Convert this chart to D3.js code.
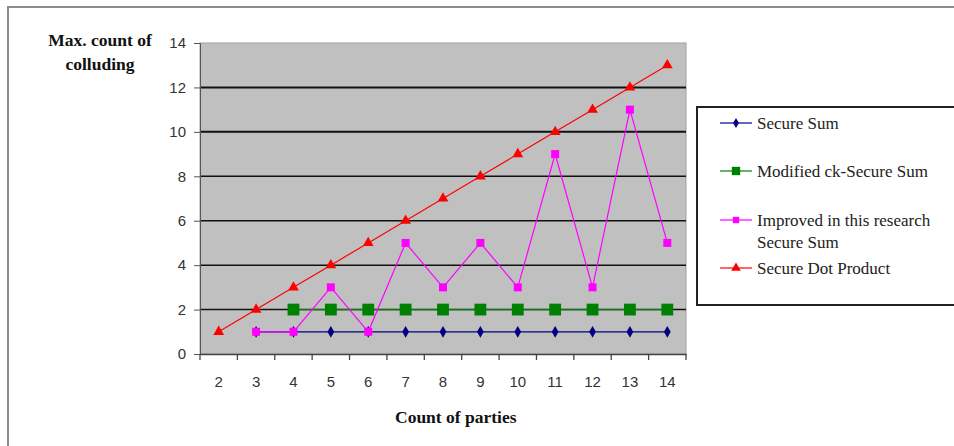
<!DOCTYPE html>
<html><head><meta charset="utf-8">
<script src="https://cdn.jsdelivr.net/npm/d3@7"></script>
<style>body{margin:0;background:#fff}svg{display:block}</style>
</head><body>
<svg id="c" width="954" height="446"></svg>
<script>
const categories = [2,3,4,5,6,7,8,9,10,11,12,13,14];
const yTicks = [0,2,4,6,8,10,12,14];
const secureSum = [null,1,1,1,1,1,1,1,1,1,1,1,1];
const modifiedCk = [null,null,2,2,2,2,2,2,2,2,2,2,2];
const improved = [null,1,1,3,1,5,3,5,3,9,3,11,5];
const dotProduct = [1,2,3,4,5,6,7,8,9,10,11,12,13];
const seriesNames = ["Secure Sum","Modified ck-Secure Sum","Improved in this research\nSecure Sum","Secure Dot Product"];

const series = [
  {name:seriesNames[0], values:secureSum, color:"#000080", marker:"diamond", size:40},
  {name:seriesNames[1], values:modifiedCk, color:"#008000", marker:"square", size:140},
  {name:seriesNames[2], values:improved, color:"#ff00ff", marker:"square", size:64},
  {name:seriesNames[3], values:dotProduct, color:"#ff0000", marker:"triangle", size:50}
];

const svg = d3.select("#c");
const L=200, R=686, T=43, B=354;
const x = d3.scaleBand().domain(categories).range([L,R]);
const y = d3.scaleLinear().domain([0,14]).range([B,T]);
const serif = "Liberation Serif, Times New Roman, serif";
const sans = "Liberation Sans, Arial, sans-serif";

// outer frame
svg.append("rect").attr("x",8).attr("y",7).attr("width",960).attr("height",460)
  .attr("fill","#fff").attr("stroke","#8c8c8c").attr("stroke-width",2);

// plot area
svg.append("rect").attr("x",L).attr("y",T).attr("width",R-L).attr("height",B-T)
  .attr("fill","#c0c0c0").attr("stroke","#a0a0a0").attr("stroke-width",1);

// gridlines
svg.append("g").selectAll("line").data(yTicks.filter(d=>d>0&&d<14)).join("line")
  .attr("x1",L).attr("x2",R).attr("y1",d=>y(d)).attr("y2",d=>y(d))
  .attr("stroke","#111").attr("stroke-width",d=>d>=10?2:1.5);

// y axis
const ya = svg.append("g").attr("transform",`translate(${L},0)`)
  .call(d3.axisLeft(y).tickValues(yTicks).tickSize(6).tickPadding(8));
ya.select(".domain").attr("stroke","#555");
ya.selectAll(".tick line").attr("stroke","#555");
ya.selectAll("text").attr("font-family",sans).attr("font-size",15).attr("fill","#333");

// x axis
const xa = svg.append("g").attr("transform",`translate(0,${B})`)
  .call(d3.axisBottom(x).tickSize(0).tickPadding(22));
xa.select(".domain").attr("stroke","#444").attr("stroke-width",1.3);
xa.selectAll("text").attr("font-family",sans).attr("font-size",15).attr("fill","#333");
// tick marks between categories
const bounds = categories.map(c=>x(c)).concat([x(categories[categories.length-1])+x.bandwidth()]);
svg.append("g").selectAll("line").data(bounds).join("line")
  .attr("x1",d=>d).attr("x2",d=>d).attr("y1",B).attr("y2",B+6)
  .attr("stroke","#444").attr("stroke-width",1.3);

// axis titles
const yt = svg.append("text").attr("font-family",serif)
  .attr("font-weight","bold").attr("font-size",17.5).attr("text-anchor","middle").attr("fill","#111");
yt.append("tspan").attr("x",100).attr("y",46).text("Max. count of");
yt.append("tspan").attr("x",100).attr("y",70).text("colluding");
svg.append("text").attr("x",395).attr("y",423).attr("font-family",serif)
  .attr("font-weight","bold").attr("font-size",17.5).attr("fill","#111")
  .text("Count of parties");

const symType = {diamond:d3.symbolDiamond, square:d3.symbolSquare, triangle:d3.symbolTriangle};
const cx = c => x(c)+x.bandwidth()/2;

series.forEach(s=>{
  const pts = categories.map((c,i)=>({c, v:s.values[i]})).filter(p=>p.v!=null);
  svg.append("path").datum(pts)
    .attr("d", d3.line().x(p=>cx(p.c)).y(p=>y(p.v)))
    .attr("fill","none").attr("stroke",s.color).attr("stroke-width",1.2);
  svg.append("g").selectAll("path").data(pts).join("path")
    .attr("transform",p=>`translate(${cx(p.c)},${y(p.v)})`)
    .attr("d", d3.symbol().type(symType[s.marker]).size(s.size))
    .attr("fill",s.color);
});

// legend
svg.append("rect").attr("x",697).attr("y",107).attr("width",300).attr("height",198)
  .attr("fill","#fff").attr("stroke","#222").attr("stroke-width",2);
const legY = [123,171,220,268];
const lsize = [30,70,40,40];
series.forEach((s,i)=>{
  const g = svg.append("g").attr("transform",`translate(0,${legY[i]})`);
  g.append("line").attr("x1",720).attr("x2",752).attr("stroke",s.color).attr("stroke-width",1.2);
  g.append("path").attr("transform","translate(736,0)")
    .attr("d", d3.symbol().type(symType[s.marker]).size(lsize[i])).attr("fill",s.color);
  const t = g.append("text").attr("font-family",serif)
    .attr("font-size",17).attr("fill","#222");
  s.name.split("\n").forEach((ln,j)=>t.append("tspan").attr("x",757).attr("y",6+j*22).text(ln));
});
</script>
</body></html>
